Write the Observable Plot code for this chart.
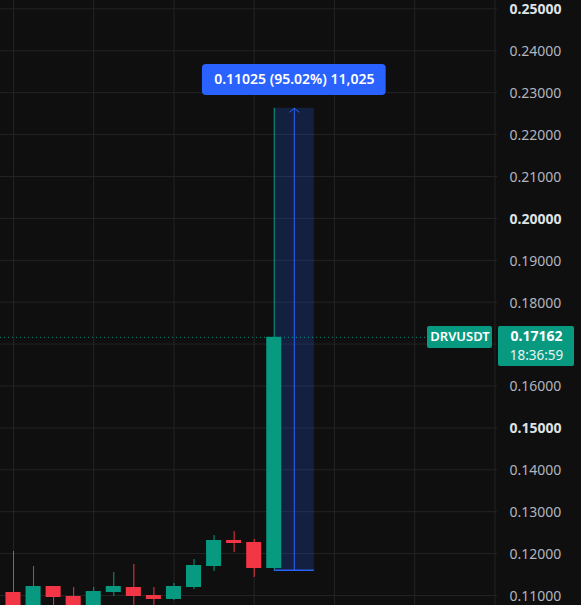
<!DOCTYPE html>
<html><head><meta charset="utf-8">
<script src="https://cdn.jsdelivr.net/npm/d3@7"></script>
<script src="https://cdn.jsdelivr.net/npm/@observablehq/plot@0.6"></script>
<style>
html,body{margin:0;padding:0;background:#0f0f0f;overflow:hidden}
#chart svg{display:block}
</style></head><body><div id="chart"></div>
<script>
// Candles (index = bar number)
const opens  = [0.11072, 0.10700, 0.11215, 0.10976, 0.10700, 0.11072, 0.11191, 0.11000, 0.10905, 0.11191, 0.11692, 0.12313, 0.12265, 0.11644];
const highs  = [0.12050, 0.11692, 0.11215, 0.11191, 0.11191, 0.11549, 0.11740, 0.11191, 0.11286, 0.11859, 0.12432, 0.12527, 0.12337, 0.22628];
const lows   = [0.10600, 0.10620, 0.10700, 0.10600, 0.10650, 0.10976, 0.10680, 0.10700, 0.10881, 0.11143, 0.11573, 0.12026, 0.11430, 0.11603];
const closes = [0.10680, 0.11215, 0.10952, 0.10680, 0.11095, 0.11215, 0.10976, 0.10905, 0.11215, 0.11716, 0.12313, 0.12241, 0.11644, 0.17162];

const priceTicks = [0.11, 0.12, 0.13, 0.14, 0.15, 0.16, 0.17, 0.18, 0.19, 0.20, 0.21, 0.22, 0.23, 0.24, 0.25];
const boldTicks = [0.15, 0.20, 0.25];
const hiddenTicks = [0.17]; // covered by the last-price tag
const timeGrid = [0, 4, 8, 12, 16, 20, 24];

const symbol = "DRVUSDT";
const lastPrice = 0.17162;
const countdown = "18:36:59";

// Price range measurement tool
const measureFromBar = 13, measureToBar = 15, measureArrowBar = 14;
const measureLow = 0.11603, measureHigh = 0.22628;
const measureText = "0.11025 (95.02%) 11,025";
const measureLabelY = [0.22933, 0.23673];
const measureLabelHalfBars = 4.58;

// price tag extents (bars / price units)
const symTagBars = [20.64, 23.88];
const priceTagBars = [24.18, 27.97];
const tagTop = 0.17420, symTagBottom = 0.16895, priceTagBottom = 0.16465;

const GREEN = "#089981", RED = "#f23645", BLUE = "#2962ff";
const FONT = "'Noto Sans', 'Open Sans', sans-serif";

const data = opens.map((o, i) => ({i, open: o, high: highs[i], low: lows[i], close: closes[i], color: closes[i] >= o ? GREEN : RED}));

const chart = Plot.plot({
  width: 581, height: 605,
  marginLeft: 0, marginRight: 84, marginTop: 0, marginBottom: 0,
  style: {background: "#0f0f0f", fontFamily: FONT, overflow: "visible"},
  x: {domain: [-0.648, 24.13], axis: null},
  y: {domain: [0.107613, 0.25200], axis: null},
  marks: [
    Plot.gridX(timeGrid, {stroke: "#242424", strokeOpacity: 1}),
    Plot.gridY(priceTicks, {stroke: "#242424", strokeOpacity: 1}),
    Plot.axisY(priceTicks.filter(t => !boldTicks.includes(t) && !hiddenTicks.includes(t)), {anchor: "right", tickSize: 0, tickPadding: 12, dy: 1, tickFormat: d3.format(".5f"), fill: "#b2b5be", fontSize: 14, fontFamily: FONT}),
    Plot.axisY(boldTicks, {anchor: "right", tickSize: 0, tickPadding: 12, dy: 1, tickFormat: d3.format(".5f"), fill: "#dfe1e6", fontSize: 14, fontWeight: "bold", fontFamily: FONT}),
    // measurement box
    Plot.rect([0], {x1: measureFromBar, x2: measureToBar, y1: measureLow, y2: measureHigh, fill: BLUE, fillOpacity: 0.2}),
    Plot.ruleY([measureLow], {x1: measureFromBar, x2: measureToBar, stroke: BLUE, strokeWidth: 1.5}),
    Plot.arrow([0], {x1: measureArrowBar, x2: measureArrowBar, y1: measureLow, y2: measureHigh, stroke: BLUE, strokeWidth: 1, headLength: 9, headAngle: 100}),
    // last price dotted line
    Plot.ruleY([lastPrice], {x1: -0.65, x2: symTagBars[0], stroke: GREEN, strokeDasharray: "1,3", strokeWidth: 1}),
    // candles
    Plot.ruleX(data, {x: "i", y1: "low", y2: "high", stroke: "color", clip: true}),
    Plot.rect(data, {x1: d => d.i - 0.375, x2: d => d.i + 0.375, y1: "open", y2: "close", fill: "color", clip: true}),
    // measurement label
    Plot.rect([0], {x1: measureArrowBar - measureLabelHalfBars, x2: measureArrowBar + measureLabelHalfBars, y1: measureLabelY[0], y2: measureLabelY[1], fill: BLUE, rx: 4}),
    Plot.text([measureText], {x: measureArrowBar, y: (measureLabelY[0] + measureLabelY[1]) / 2, text: d => d, fill: "white", fontSize: 14, fontWeight: 600, fontFamily: FONT}),
    // price tags
    Plot.rect([0], {x1: symTagBars[0], x2: symTagBars[1], y1: symTagBottom, y2: tagTop, fill: GREEN, rx: 2}),
    Plot.text([symbol], {x: (symTagBars[0] + symTagBars[1]) / 2, y: lastPrice, text: d => d, fill: "white", fontSize: 13, fontWeight: 600, fontFamily: FONT}),
    Plot.rect([0], {x1: priceTagBars[0], x2: priceTagBars[1], y1: priceTagBottom, y2: tagTop, fill: GREEN, rx: 2}),
    Plot.text([lastPrice], {x: (priceTagBars[0] + priceTagBars[1]) / 2, y: lastPrice, dy: -1, text: d => d3.format(".5f")(d), fill: "white", fontSize: 14, fontWeight: "bold", fontFamily: FONT}),
    Plot.text([countdown], {x: (priceTagBars[0] + priceTagBars[1]) / 2, y: lastPrice, dy: 18, text: d => d, fill: "#e6f4f1", fontSize: 13.5, fontFamily: FONT})
  ]
});
document.getElementById("chart").append(chart);
</script></body></html>
